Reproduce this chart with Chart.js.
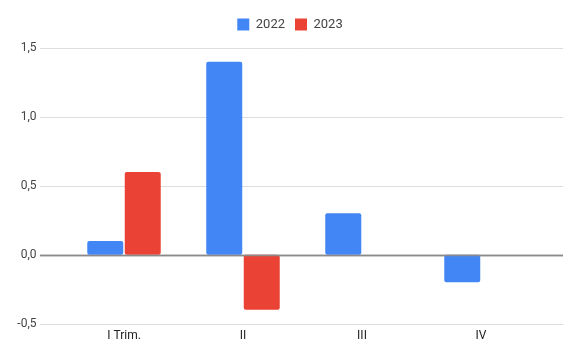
<!DOCTYPE html>
<html><head><meta charset="utf-8">
<script src="https://cdn.jsdelivr.net/npm/chart.js@4"></script>
<style>html,body{margin:0;padding:0;background:#fff}#wrap{width:580px;height:359px}</style>
</head><body><div id="wrap"><canvas id="c"></canvas></div>
<script>
const categories = ["I Trim.", "II", "III", "IV"];
const series2022 = [0.1, 1.4, 0.3, -0.2];
const series2023 = [0.6, -0.4, null, null];
const yTicks = [-0.5, 0, 0.5, 1.0, 1.5];

const gridPlugin = {
  id: 'fullGrid',
  afterInit(chart) {
    const lg = chart.legend;
    if (lg) { const f = lg.fit; lg.fit = function(){ f.call(this); this.height += 7; }; }
  },
  beforeDatasetsDraw(chart) {
    const y = chart.scales.y, ctx = chart.ctx;
    ctx.save();
    yTicks.forEach(v => {
      const py = Math.round(y.getPixelForValue(v)) + 0.5;
      ctx.beginPath();
      ctx.strokeStyle = v === 0 ? '#8a8a8a' : '#dddddd';
      ctx.lineWidth = v === 0 ? 1.5 : 1;
      ctx.moveTo(40, py); ctx.lineTo(563, py); ctx.stroke();
    });
    ctx.restore();
  },
  afterDatasetsDraw(chart) {
    const y = chart.scales.y, ctx = chart.ctx;
    const py = Math.round(y.getPixelForValue(0)) + 0.5;
    ctx.save();
    ctx.beginPath(); ctx.strokeStyle = '#8a8a8a'; ctx.lineWidth = 1.5;
    ctx.moveTo(40, py); ctx.lineTo(563, py); ctx.stroke();
    ctx.restore();
  }
};

Chart.defaults.font.family = 'Roboto, Arial, sans-serif';
new Chart(document.getElementById('c'), {
  type: 'bar',
  data: {
    labels: categories,
    datasets: [
      {label: '2022', data: series2022, backgroundColor: '#4285F4', borderRadius: 2, borderSkipped: false},
      {label: '2023', data: series2023, backgroundColor: '#EA4335', borderRadius: 2, borderSkipped: false}
    ]
  },
  options: {
    responsive: true, maintainAspectRatio: false, animation: false,
    layout: {padding: {left: 0, right: 0, top: 8, bottom: 11}},
    categoryPercentage: 0.63, barPercentage: 0.96,
    plugins: {
      legend: {position: 'top', labels: {boxWidth: 12, boxHeight: 12, color: '#444', font: {size: 13}, padding: 10}},
      tooltip: {enabled: false}
    },
    scales: {
      x: {grid: {display: false, drawTicks: false}, border: {display: false},
          ticks: {color: '#222', font: {size: 12}, padding: 5}},
      y: {min: -0.5, max: 1.5, grid: {display: false, drawTicks: false}, border: {display: false},
          afterFit(s) { s.width = 64.5; },
          ticks: {stepSize: 0.5, color: '#444', font: {size: 12}, padding: 28,
            callback: v => v.toFixed(1).replace('.', ',')}},
      yRight: {position: 'right', min: -0.5, max: 1.5, grid: {display: false, drawTicks: false},
          border: {display: false}, ticks: {display: false},
          afterFit(s) { s.width = 39.5; }}
    }
  },
  plugins: [gridPlugin]
});
</script></body></html>
